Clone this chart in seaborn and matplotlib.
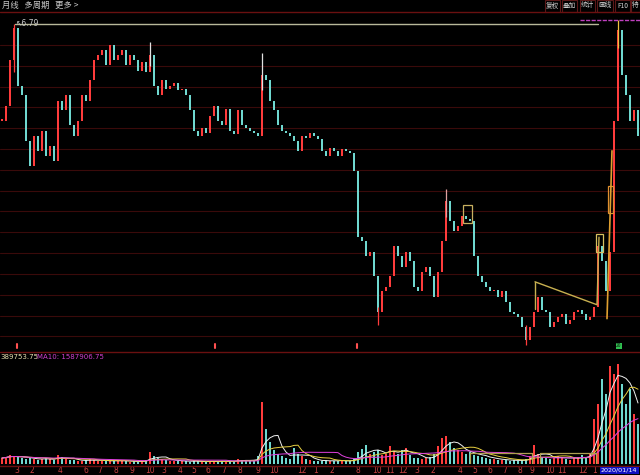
import numpy as np
import pandas as pd
import matplotlib
matplotlib.use("Agg")
import matplotlib.pyplot as plt
import seaborn as sns
from matplotlib.patches import Rectangle
from matplotlib.lines import Line2D

# ---------------- data ----------------
close = [5.19, 5.44, 6.19, 6.72, 5.77, 5.61, 4.86, 4.44, 4.94, 4.69,
         5.02, 4.61, 4.77, 4.52, 5.52, 5.36, 5.61, 5.11, 4.94, 5.19,
         5.61, 5.52, 5.86, 6.19, 6.27, 6.36, 6.11, 6.44, 6.19, 6.27,
         6.36, 6.11, 6.27, 6.19, 6.02, 6.16, 5.99, 6.27, 5.77, 5.61,
         5.86, 5.72, 5.77, 5.82, 5.69, 5.72, 5.61, 5.36, 5.02, 4.94,
         5.06, 4.99, 5.27, 5.44, 5.19, 5.11, 5.39, 5.02, 4.97, 5.36,
         5.11, 5.06, 5.02, 4.99, 4.94, 5.94, 5.86, 5.52, 5.36, 5.11,
         5.02, 4.99, 4.94, 4.86, 4.69, 4.94, 4.91, 4.99, 4.94, 4.89,
         4.69, 4.61, 4.74, 4.69, 4.61, 4.72, 4.69, 4.66, 4.36, 3.27,
         3.19, 2.94, 3.02, 2.61, 2.02, 2.36, 2.44, 2.61, 3.11, 2.94,
         2.77, 3.02, 2.86, 2.44, 2.36, 2.69, 2.77, 2.61, 2.27, 2.69,
         3.19, 3.86, 3.52, 3.36, 3.44, 3.61, 3.56, 3.52, 2.94, 2.61,
         2.52, 2.44, 2.36, 2.39, 2.27, 2.36, 2.19, 2.02, 1.99, 1.94,
         1.77, 1.56, 1.77, 2.02, 2.27, 2.06, 2.02, 1.77, 1.86, 1.94,
         1.99, 1.82, 1.89, 2.02, 2.06, 1.99, 1.89, 1.94, 2.11, 3.11,
         2.86, 2.36, 3.02, 5.19, 6.69, 5.94, 5.61, 5.19, 5.36, 4.94]

volume = [6, 7, 9, 8, 7, 6, 5, 6, 5, 4,
          5, 6, 5, 4, 9, 7, 5, 4, 4, 3,
          3, 4, 5, 4, 3, 3, 3, 3, 4, 3,
          3, 3, 2, 3, 2, 3, 4, 12, 8, 6,
          5, 4, 3, 3, 3, 3, 3, 2, 3, 3,
          2, 2, 3, 3, 3, 3, 2, 3, 3, 5,
          4, 3, 3, 4, 8, 62, 35, 22, 14, 10,
          8, 6, 5, 16, 10, 8, 5, 4, 3, 3,
          3, 4, 3, 3, 3, 4, 3, 3, 5, 12,
          15, 19, 10, 12, 14, 9, 10, 18, 12, 10,
          14, 16, 9, 6, 6, 5, 6, 7, 10, 18,
          26, 28, 22, 16, 14, 12, 10, 12, 9, 8,
          7, 6, 5, 5, 4, 4, 4, 3, 4, 3,
          4, 5, 8, 19, 10, 7, 6, 5, 6, 8,
          7, 5, 4, 6, 7, 9, 6, 10, 45, 60,
          85, 70, 98, 90, 100, 80, 60, 75, 50, 40]

wick_idx = [3, 37, 65, 94, 111, 131, 154]
wick_high = [6.79, 6.49, 6.31, 2.10, 4.06, 1.80, 6.86]
wick_low = [6.00, 6.10, 5.69, 1.81, 3.60, 1.47, 6.40]

tick_pos = [3.75, 7.5, 14.5, 21, 24.5, 28.5, 32.5, 37, 40.5, 44.5, 48, 51.5,
            55.5, 59.5, 64, 68, 75, 78.5, 82.5, 89, 93.75, 97, 100.25,
            103.75, 107.75, 114.5, 118.25, 122, 125.75, 129.5, 132.5, 137,
            140, 145.25, 148.25]
tick_lab = ["3", "2", "4", "6", "7", "8", "9", "10", "3", "4", "5", "6",
            "7", "8", "9", "10", "12", "1", "2", "8", "10", "11", "12",
            "3", "2", "4", "5", "6", "7", "8", "9", "10", "11", "12", "1"]

max_price = 6.79

# triangle / box annotations drawn on the chart (index, price)
tri_x = [133.25, 148.75, 149.25]
tri_y = [2.52, 2.14, 3.26]
tri_v_x = [133.25, 133.25]
tri_v_y = [2.52, 2.07]
rise_x = [151.25, 152.5]
rise_y = [1.91, 4.69]
boxes = [(115.25, 3.49, 2.25, 0.30, "#c8b060"),
         (148.5, 3.02, 1.75, 0.30, "#d8c060"),
         (151.5, 3.66, 1.25, 0.45, "#e09030")]
vol_boxes = [(117.0, 132.5, 11), (134.5, 148.5, 11)]

# ---------------- styling ----------------
sns.set_theme(style="dark", rc={"axes.facecolor": "black",
                                "figure.facecolor": "black"})
plt.rcParams["font.family"] = ["Noto Sans CJK SC", "DejaVu Sans"]

W, H = 640, 475
fig = plt.figure(figsize=(6.4, 4.75), dpi=100)
fig.patch.set_facecolor("black")

def fx(x):
    return x / W

def fy(y):
    return 1 - y / H

UP = "#ff3c3c"
DN = "#6fd8d0"
GRID = "#3a0a0a"
SEP = "#6a1010"

n = len(close)
idx = np.arange(n)
opens = np.array([close[0]] + close[:-1])
closes = np.array(close)
up = closes >= opens
cols = np.where(up, UP, DN)

# ---------------- price panel ----------------
ax = fig.add_axes([0, fy(352), 1, (352 - 14) / H])
ax.set_facecolor("black")
lo = np.minimum(opens, closes)
hi = np.maximum(opens, closes)
hgt = np.maximum(hi - lo, 0.03)
ax.vlines(wick_idx, wick_low, wick_high,
          colors=[UP, "#e0e0e0", "#e0e0e0", UP, "#e0a0a0", UP, "#f0c040"],
          linewidth=0.9)
ax.bar(idx, hgt, bottom=lo, width=0.5, color=cols, linewidth=0)
ax.set_xlim(-0.5, n - 0.5)
ax.set_ylim(1.357, 6.957)
ax.set_yticks(max_price - 0.345 * np.arange(1, 16))
ax.set_xticks([])
ax.tick_params(left=False, labelleft=False)
ax.grid(True, axis="y", color=GRID, linewidth=0.8)
ax.grid(False, axis="x")
for s in ax.spines.values():
    s.set_visible(False)

ax.plot([3.25, 149.0], [max_price, max_price], color="#b8b89a", linewidth=1.0)
ax.text(3.4, max_price + 0.01, "↖6.79", color="#c8c8c8", fontsize=5.5,
        va="center", ha="left", family=["DejaVu Sans"])
ax.plot(tri_x, tri_y, color="#c8b050", linewidth=1.0)
ax.plot(tri_v_x, tri_v_y, color="#c8b050", linewidth=1.0)
ax.plot(rise_x, rise_y, color="#e0a030", linewidth=1.2)
for bx, by, bw, bh, bc in boxes:
    ax.add_patch(Rectangle((bx, by), bw, bh, fill=False, edgecolor=bc, linewidth=0.9))
# small markers at panel bottom
for mx in [3.75, 53.25, 88.75]:
    ax.plot([mx, mx], [1.43, 1.49], color="#ff5050", linewidth=1.5)
ax.text(154.25, 1.46, "20", color="#101010", fontsize=3.5, ha="center", va="center",
        bbox=dict(boxstyle="square,pad=0.15", facecolor="#30c050", edgecolor="none"))

# ---------------- volume panel ----------------
av = fig.add_axes([0, fy(464), 1, (464 - 360) / H])
av.set_facecolor("black")
av.bar(idx, volume, width=0.55, color=cols, linewidth=0)
vdf = pd.DataFrame({"i": idx, "v": volume})
vdf["ma5"] = vdf["v"].rolling(5, min_periods=1).mean()
vdf["ma10"] = vdf["v"].rolling(10, min_periods=1).mean()
vdf["ma20"] = vdf["v"].rolling(20, min_periods=1).mean()
sns.lineplot(data=vdf, x="i", y="ma5", ax=av, color="#f0f0f0", linewidth=0.7)
sns.lineplot(data=vdf, x="i", y="ma10", ax=av, color="#e8d040", linewidth=0.7)
sns.lineplot(data=vdf, x="i", y="ma20", ax=av, color="#e040e0", linewidth=0.7)
for x0, x1, hv in vol_boxes:
    av.plot([x0, x0, x1, x1], [0, hv, hv, 0], color="#b0a050", linewidth=0.9)
av.set_xlim(-0.5, n - 0.5)
av.set_ylim(0, 104)
av.set_xticks([])
av.set_yticks([])
av.set_xlabel("")
av.set_ylabel("")
av.grid(False)
for s in av.spines.values():
    s.set_visible(False)

# x labels under the volume panel
lab = fig.add_axes([0, 0, 1, fy(466)])
lab.set_facecolor("black")
lab.set_xlim(-0.5, n - 0.5)
lab.set_ylim(0, 1)
lab.axis("off")
for tp, tl in zip(tick_pos, tick_lab):
    lab.text(tp, 0.45, tl, color="#c84040", fontsize=5.5, ha="center", va="center",
             family=["DejaVu Sans"])
fig.text(fx(601), fy(470.5), "2020/01/14", color="white", fontsize=4.6, ha="left",
         va="center", family=["DejaVu Sans"],
         bbox=dict(boxstyle="square,pad=0.2", facecolor="#1010c0", edgecolor="none"))

# ---------------- frame lines / headers ----------------
for yy in [12, 352, 466]:
    fig.add_artist(Line2D([0, 1], [fy(yy), fy(yy)], color=SEP, linewidth=1.0))
fig.add_artist(Line2D([fx(580), fx(640)], [fy(20), fy(20)], color="#c040c0",
                      linewidth=1.0, linestyle=(0, (3, 1))))

fig.text(fx(2), fy(5.5), "月线   多周期   更多 >", color="#c8c8c8", fontsize=6,
         ha="left", va="center")
btns = ["复权", "叠加", "统计", "画线", "F10", "特"]
bx0 = [545, 562, 580, 597, 615, 631]
bx1 = [560, 577, 595, 613, 630, 640]
for b, a0, a1 in zip(btns, bx0, bx1):
    fig.add_artist(Rectangle((fx(a0), fy(11.5)), fx(a1 - a0), 11 / H, fill=False,
                             edgecolor="#5a1818", linewidth=0.8))
    fig.text(fx((a0 + a1) / 2), fy(5.5), b, color="#d0d0d0", fontsize=4.8,
             ha="center", va="center")

fig.text(fx(0), fy(357), "389753.75", color="#e8e0b0", fontsize=5.0, ha="left",
         va="center", family=["DejaVu Sans"])
fig.text(fx(37), fy(357), "MA10: 1587906.75", color="#d040d0", fontsize=5.0,
         ha="left", va="center", family=["DejaVu Sans"])

fig.savefig("out.png", dpi=100, facecolor="black")
